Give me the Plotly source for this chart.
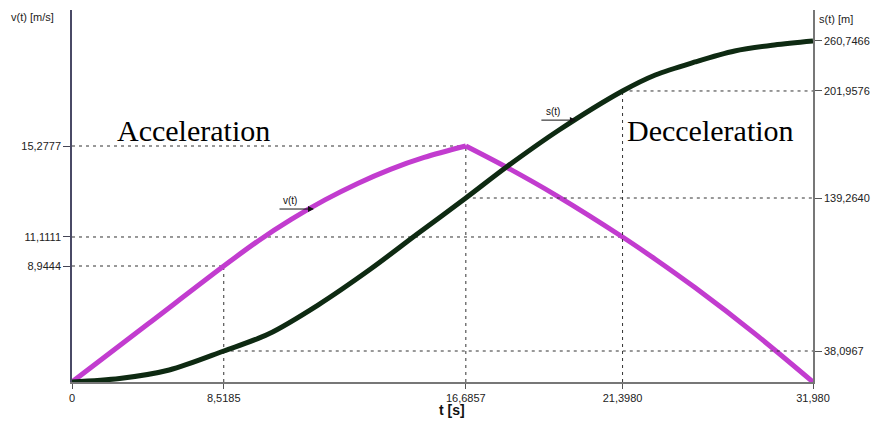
import numpy as np
import plotly.graph_objects as go

# ---- tick values and their printed labels ----
t_ticks = [0.0, 8.5185, 16.6857, 21.3980, 31.980]
t_tick_text = ["0", "8,5185", "16,6857", "21,3980", "31,980"]
v_ticks = [8.9444, 11.1111, 15.2777]
v_tick_text = ["8,9444", "11,1111", "15,2777"]
s_ticks = [38.0967, 139.2640, 201.9576, 260.7466]
s_tick_text = ["38,0967", "139,2640", "201,9576", "260,7466"]

# ---- velocity v(t) [m/s]: acceleration phase, then braking ----
t_v_acc = [0.0, 4.26, 8.5185, 9.690, 10.794, 11.933, 13.037, 14.141, 15.279, 16.6857]
v_acc = [0.0, 4.47, 8.9444, 10.835, 11.917, 12.810, 13.565, 14.211, 14.756, 15.2777]
t_v_dec = [16.6857, 17.908, 19.399, 21.398, 23.217, 25.421, 28.728, 31.980]
v_dec = [15.2777, 14.307, 13.020, 11.1111, 9.452, 7.279, 3.748, 0.0]

# ---- distance s(t) [m] ----
t_s = [0.0, 2.673, 5.457, 8.5185, 10.025, 11.698, 13.472, 15.045, 16.6857,
       17.908, 19.489, 21.398, 23.217, 25.421, 27.625, 29.830, 31.980]
s_vals = [0.0, 4.30, 14.75, 38.0967, 49.34, 68.51, 92.32, 115.46, 139.264,
          157.43, 179.10, 201.9576, 220.77, 236.06, 248.99, 256.04, 260.7466]

# Piecewise-linear axis scales: value knots -> fraction of axis length
T_SCALE = ([0.0, 8.5185, 16.6857, 21.3980, 31.980], [0.0, 0.2048, 0.5315, 0.7430, 1.0])
V_SCALE = ([0.0, 8.9444, 11.1111, 15.2777, 21.5], [0.0, 0.3118, 0.3898, 0.6344, 1.0])
S_SCALE = ([0.0, 38.0967, 139.2640, 201.9576, 260.7466, 297.2],
           [0.0, 0.0833, 0.4946, 0.7823, 0.9167, 1.0])


def sc(vals, spec):
    return np.interp(np.asarray(vals, dtype=float), spec[0], spec[1])


V_COLOR = "#c23ccf"
S_COLOR = "#0e2a12"
GUIDE = dict(color="#333333", width=1, dash="3px,4px")
TICK_FONT = dict(family="Liberation Sans, Arial, sans-serif", size=11, color="#222222")

fig = go.Figure()

# dashed guide lines to the labelled points
t0, t1, t2, t3, t4 = t_ticks
v0, v1, v2 = v_ticks
s0, s1, s2, s3 = s_ticks
guides = [
    ("v", [0, t2], [v2, v2]),
    ("v", [0, t3], [v1, v1]),
    ("v", [0, t1], [v0, v0]),
    ("v", [t1, t1], [0, v0]),
    ("v", [t2, t2], [0, v2]),
    ("s", [t3, t3], [0, s2]),
    ("s", [t1, t4], [s0, s0]),
    ("s", [t2, t4], [s1, s1]),
    ("s", [t3, t4], [s2, s2]),
]
for axis, tx, yy in guides:
    spec = V_SCALE if axis == "v" else S_SCALE
    fig.add_trace(go.Scatter(
        x=sc(tx, T_SCALE), y=sc(yy, spec), mode="lines", line=GUIDE,
        yaxis="y" if axis == "v" else "y2", hoverinfo="skip", showlegend=False))

fig.add_trace(go.Scatter(
    x=sc(t_s, T_SCALE), y=sc(s_vals, S_SCALE), mode="lines",
    line=dict(color=S_COLOR, width=5, shape="spline", smoothing=0.9),
    yaxis="y2", name="s(t)", showlegend=False))
for tt, vv in [(t_v_acc, v_acc), (t_v_dec, v_dec)]:
    fig.add_trace(go.Scatter(
        x=sc(tt, T_SCALE), y=sc(vv, V_SCALE), mode="lines",
        line=dict(color=V_COLOR, width=5, shape="spline", smoothing=0.9),
        yaxis="y", name="v(t)", showlegend=False))

ann = []
# axis titles
ann.append(dict(text="v(t) [m/s]", x=-0.085, y=0.98, xref="paper", yref="paper",
                xanchor="left", yanchor="middle", showarrow=False, font=TICK_FONT))
ann.append(dict(text="s(t) [m]", x=1.006, y=0.975, xref="paper", yref="paper",
                xanchor="left", yanchor="middle", showarrow=False, font=TICK_FONT))
ann.append(dict(text="<b>t [s]</b>", x=0.5127, y=-0.075, xref="paper", yref="paper",
                xanchor="center", yanchor="middle", showarrow=False,
                font=dict(family="Liberation Sans, Arial, sans-serif", size=14, color="#111111")))
# phase labels
serif = dict(family="Liberation Serif, Times New Roman, serif", size=30, color="#000000")
ann.append(dict(text="Acceleration", x=0.1633, y=0.677, xref="paper", yref="paper",
                xanchor="center", yanchor="middle", showarrow=False, font=serif))
ann.append(dict(text="Decceleration", x=0.862, y=0.677, xref="paper", yref="paper",
                xanchor="center", yanchor="middle", showarrow=False, font=serif))
# curve markers
for label, hx, hy, tx, ty in [("v(t)", 0.3266, 0.465, 0.2945, 0.489),
                              ("s(t)", 0.680, 0.704, 0.649, 0.728)]:
    ann.append(dict(text="", x=hx, y=hy, xref="paper", yref="paper", ax=-36, ay=0,
                    showarrow=True, arrowhead=2, arrowsize=1.2, arrowwidth=1,
                    arrowcolor="#111111"))
    ann.append(dict(text=label, x=tx, y=ty, xref="paper", yref="paper",
                    xanchor="center", yanchor="middle", showarrow=False,
                    font=dict(family="Liberation Sans, Arial, sans-serif", size=10,
                              color="#111111")))

fig.update_layout(
    width=880, height=422,
    margin=dict(l=72, r=61, t=10, b=40),
    paper_bgcolor="white", plot_bgcolor="white",
    annotations=ann,
    xaxis=dict(range=[0, 1], tickvals=sc(t_ticks, T_SCALE), ticktext=t_tick_text,
               ticks="outside", ticklen=5, tickcolor="#555555", showgrid=False,
               zeroline=False, showline=True, linecolor="#777777", linewidth=1.5,
               tickfont=TICK_FONT, fixedrange=True),
    yaxis=dict(range=[0, 1], tickvals=sc(v_ticks, V_SCALE), ticktext=v_tick_text,
               ticks="outside", ticklen=7, tickcolor="#444455", showgrid=False,
               zeroline=False, showline=True, linecolor="#4a4a66", linewidth=1.5,
               tickfont=TICK_FONT, fixedrange=True),
    yaxis2=dict(range=[0, 1], overlaying="y", side="right",
                tickvals=sc(s_ticks, S_SCALE), ticktext=s_tick_text,
                ticks="outside", ticklen=7, tickcolor="#555555", showgrid=False,
                zeroline=False, showline=True, linecolor="#777777", linewidth=1.5,
                tickfont=TICK_FONT, fixedrange=True),
)

fig.write_html("out.html")
